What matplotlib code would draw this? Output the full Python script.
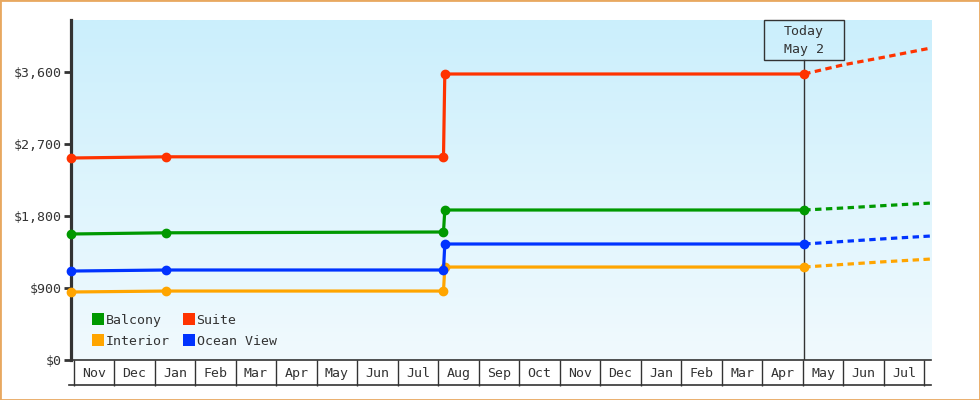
import matplotlib
matplotlib.use("Agg")
import matplotlib.pyplot as plt
import numpy as np
import datetime as dt
import calendar
from matplotlib.colors import LinearSegmentedColormap
from matplotlib.lines import Line2D
from matplotlib.patches import Rectangle
from matplotlib.ticker import FuncFormatter
import matplotlib.transforms as mtransforms

# ---- data ----
hist_dates = ["2024-10-30", "2025-01-10", "2025-08-05", "2025-08-06", "2026-05-02"]
suite = [2525, 2540, 2540, 3575, 3575]
balcony = [1575, 1590, 1600, 1875, 1875]
ocean_view = [1112, 1125, 1125, 1450, 1450]
interior = [850, 862, 862, 1162, 1162]

proj_dates = ["2026-05-02", "2026-06-01", "2026-07-01", "2026-08-06"]
suite_proj = [3575, 3690, 3785, 3900]
balcony_proj = [1875, 1900, 1930, 1962]
ocean_view_proj = [1450, 1482, 1515, 1550]
interior_proj = [1162, 1195, 1228, 1262]

y_ticks = [0, 900, 1800, 2700, 3600]
month_labels = ["Nov", "Dec", "Jan", "Feb", "Mar", "Apr", "May", "Jun", "Jul", "Aug",
                "Sep", "Oct", "Nov", "Dec", "Jan", "Feb", "Mar", "Apr", "May", "Jun", "Jul"]
today = "2026-05-02"
today_label = "Today\nMay 2"

series = [
    ("Balcony", balcony, balcony_proj, "#009900"),
    ("Interior", interior, interior_proj, "#ffa500"),
    ("Suite", suite, suite_proj, "#ff3300"),
    ("Ocean View", ocean_view, ocean_view_proj, "#0033ff"),
]

FONT = "DejaVu Sans Mono"
TXT = "#333333"
plt.rcParams["font.family"] = [FONT]
plt.rcParams["font.size"] = 9.5

BASE_Y, BASE_M = 2024, 11

def d(s):
    """date -> fractional months since Nov 1 2024 (each month equal width)"""
    t = dt.datetime.strptime(s, "%Y-%m-%d")
    idx = (t.year - BASE_Y) * 12 + (t.month - BASE_M)
    ndays = calendar.monthrange(t.year, t.month)[1]
    return idx + (t.day - 1) / ndays

fig = plt.figure(figsize=(9.8, 4.0), dpi=100)
fig.patch.set_facecolor("white")
ax = fig.add_axes([71 / 980, 40 / 400, 860 / 980, 340 / 400])

# gradient background
cmap = LinearSegmentedColormap.from_list("bg", ["#f1fafe", "#cbeffc"])
grad = np.linspace(0, 1, 256).reshape(-1, 1)
ax.imshow(grad, extent=[0, 1, 0, 1], transform=ax.transAxes, aspect="auto",
          cmap=cmap, origin="lower", zorder=0)

hx = [d(s) for s in hist_dates]
px = [d(s) for s in proj_dates]
for name, h, p, c in series:
    ax.plot(hx, h, color=c, lw=2.3, marker="o", ms=6, zorder=4, clip_on=False,
            solid_joinstyle="miter")
    ax.plot(px, p, color=c, lw=2.3, ls=(0, (2.0, 1.4)), zorder=3, clip_on=False)

x_left = d("2024-10-30")
x_right = d("2026-08-06")
ax.set_xlim(x_left, x_right)
ax.set_ylim(0, 4250)

px_per_month = 860 / (x_right - x_left)

# today marker
tx = d(today)
blend = mtransforms.blended_transform_factory(ax.transData, ax.transAxes)
ax.plot([tx, tx], [0, 0.882], color=TXT, lw=1.0, zorder=3, transform=blend)
box_w = 80 / px_per_month
rect = Rectangle((tx - box_w / 2, 0.882), box_w, 0.118, transform=blend,
                 fill=False, edgecolor=TXT, lw=1.0, zorder=5, clip_on=False)
ax.add_patch(rect)
ax.text(tx, 0.941, today_label, ha="center", va="center", color=TXT,
        fontsize=9.5, linespacing=1.5, transform=blend, zorder=6)

# y axis
ax.set_yticks(y_ticks)
ax.yaxis.set_major_formatter(FuncFormatter(lambda v, pos: "${:,.0f}".format(v)))
ax.tick_params(axis="y", length=5, width=2, color=TXT, labelcolor=TXT, pad=2,
               labelsize=9.5)

# x axis month boxes (equal width months)
month_starts = list(range(len(month_labels) + 1))
mids = [i + 0.5 for i in range(len(month_labels))]
ax.set_xticks(mids)
ax.set_xticklabels(month_labels)
ax.set_xticks(month_starts, minor=True)
ax.tick_params(axis="x", which="major", length=0, pad=5, labelcolor=TXT, labelsize=9.5)
ax.tick_params(axis="x", which="minor", length=18.8, width=1.0, color=TXT, direction="out")

ax.plot([-0.002, 1.0], [-25 / 340, -25 / 340], transform=ax.transAxes, color=TXT,
        lw=1.2, clip_on=False, zorder=5)

for s in ["top", "right"]:
    ax.spines[s].set_visible(False)
ax.spines["left"].set_linewidth(2.3)
ax.spines["left"].set_color(TXT)
ax.spines["bottom"].set_linewidth(1.2)
ax.spines["bottom"].set_color(TXT)

# legend
handles = [Line2D([], [], ls="none", marker="s", ms=8.2, color=c, markeredgewidth=0)
           for _, _, _, c in series]
labels = [n for n, _, _, _ in series]
ax.legend(handles, labels, ncol=2, loc="lower left", bbox_to_anchor=(0.024, 0.036),
          frameon=False, handlelength=0.9, handletextpad=0.15, columnspacing=1.0,
          labelspacing=0.62, borderpad=0, borderaxespad=0, fontsize=9.5,
          labelcolor=TXT)

fig.add_artist(Rectangle((0, 0), 1, 1, transform=fig.transFigure, fill=False,
                         edgecolor="#e8a860", lw=2.0))

fig.savefig("out.png", dpi=100)
